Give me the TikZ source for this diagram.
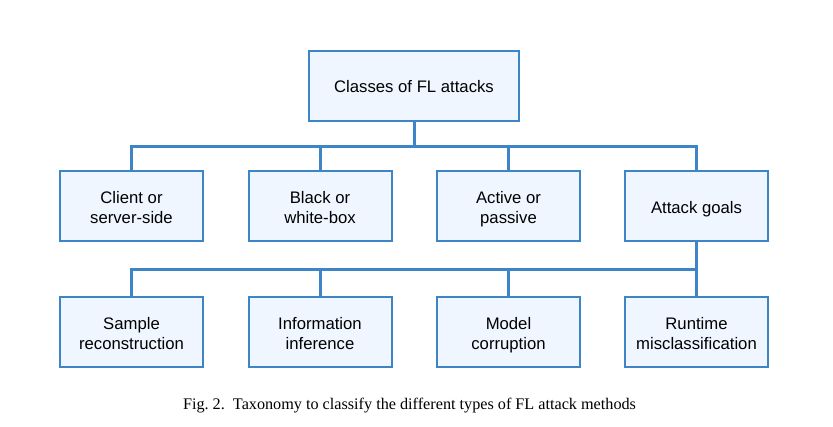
\documentclass[tikz,border=0pt]{standalone}
\usepackage{fontspec}
\setmainfont{Liberation Sans}
\newfontfamily\captionfont{Liberation Serif}
\usetikzlibrary{positioning}
\definecolor{B}{RGB}{61, 133, 198}
\definecolor{F}{RGB}{239, 246, 255}
% renglon de altura fija
\newcommand\lin{\rule[-5pt]{0pt}{24pt}}
\newcommand\letracaja{\fontsize{16.7}{20}\selectfont\lineskiplimit=-20pt\relax}
\tikzset{
  caja/.style={draw=B, fill=F, line width=2pt, minimum width=143pt, minimum height=70pt,
    align=center, font=\letracaja},
  rama/.style={draw=B, line width=3pt}
}

\begin{document}
\begin{tikzpicture}[x=1pt,y=-1pt]
    \useasboundingbox (0,0) rectangle (833,426);

    % Raiz
    \node[caja, minimum width=210pt] (raiz) at (414,85.5) {\lin Classes of FL attacks};

    % Segundo nivel
    \node[caja] (cliente) at (131.5,206) {\lin Client or\\\lin server-side};
    \node[caja] (caja) at (320,206) {\lin Black or\\\lin white-box};
    \node[caja] (activo) at (508.5,206) {\lin Active or\\\lin passive};
    \node[caja] (metas) at (696.5,206) {\lin Attack goals};

    % Tercer nivel
    \node[caja] (muestra) at (131.5,332) {\lin Sample\\\lin reconstruction};
    \node[caja] (info) at (320,332) {\lin Information\\\lin inference};
    \node[caja] (modelo) at (508.5,332) {\lin Model\\\lin corruption};
    \node[caja] (runtime) at (696.5,332) {\lin Runtime\\\lin misclassification};

    % Puntos de las barras horizontales
    \coordinate (bus1) at (414,146);
    \coordinate (bus2) at (696.5,269);

    % Conexiones raiz
    \draw[rama] (raiz.south) -- (bus1);
    \draw[rama] (cliente.north) |- (bus1) -| (metas.north);
    \draw[rama] (caja.north) -- (caja.north |- bus1);
    \draw[rama] (activo.north) -- (activo.north |- bus1);

    % Conexiones metas
    \draw[rama] (metas.south) -- (runtime.north);
    \draw[rama] (muestra.north) |- (bus2);
    \draw[rama] (info.north) -- (info.north |- bus2);
    \draw[rama] (modelo.north) -- (modelo.north |- bus2);

    % Pie
    \node[font=\captionfont\fontsize{16.2}{19}\selectfont] (pie) at (409.5,406)
      {Fig.~2.\ \ Taxonomy to classify the different types of FL attack methods};
\end{tikzpicture}
\end{document}
